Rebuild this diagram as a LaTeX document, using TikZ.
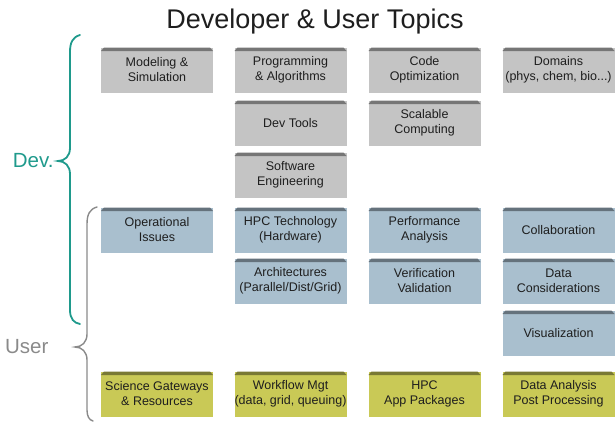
\documentclass[tikz,border=0pt]{standalone}
\usepackage{fontspec}
\setmainfont{Liberation Sans}

\definecolor{devgray}{HTML}{C4C4C4}
\definecolor{userblue}{HTML}{A9BFCE}
\definecolor{appyellow}{HTML}{C9C956}
\definecolor{topictext}{HTML}{1E1E1E}
\definecolor{devteal}{HTML}{1F9A8C}
\definecolor{usergray}{HTML}{8A8A8A}

\begin{document}
\begin{tikzpicture}[x=1pt, y=-1pt]
  \tikzset{
    topic/.style={rectangle, fill=#1, minimum width=112pt, minimum height=45pt,
      inner sep=0pt, align=center, text=topictext,
      font=\fontsize{12.5}{15}\selectfont,
      path picture={
        \fill[#1!60!black] ([yshift=-3.5pt]path picture bounding box.north west)
          -- ([xshift=3pt]path picture bounding box.north west)
          -- ([xshift=-3pt]path picture bounding box.north east)
          -- ([yshift=-3.5pt]path picture bounding box.north east) -- cycle;}},
    devbox/.style={topic=devgray},
    userbox/.style={topic=userblue},
    appbox/.style={topic=appyellow},
    side label/.style={anchor=east, font=\fontsize{20.5}{20.5}\selectfont}
  }
  \useasboundingbox (0,0) rectangle (615,421);

  \node[font=\fontsize{27}{27}\selectfont, text=topictext] (title) at (315,22) {Developer \& User Topics};

  % developer rows
  \node[devbox] (model)  at (157,70)   {Modeling \&\\Simulation};
  \node[devbox] (prog)   at (290.5,70) {Programming\\\& Algorithms};
  \node[devbox] (codeopt) at (424.5,70) {Code\\Optimization};
  \node[devbox] (domain) at (558.5,70) {Domains\\(phys, chem, bio...)};
  \node[devbox] (tools)  at (290.5,123) {Dev Tools};
  \node[devbox] (scale)  at (424.5,123) {Scalable\\Computing};
  \node[devbox] (softeng) at (290.5,175) {Software\\Engineering};

  % user rows
  \node[userbox] (opissue) at (157,230)   {Operational\\Issues};
  \node[userbox] (hpctech) at (290.5,230) {HPC Technology\\(Hardware)};
  \node[userbox] (perf)    at (424.5,230) {Performance\\Analysis};
  \node[userbox] (collab)  at (558.5,230) {Collaboration};
  \node[userbox] (arch)    at (290.5,281) {Architectures\\(Parallel/Dist/Grid)};
  \node[userbox] (verif)   at (424.5,281) {Verification\\Validation};
  \node[userbox] (datacon) at (558.5,281) {Data\\Considerations};
  \node[userbox] (vis)     at (558.5,333) {Visualization};

  % application row
  \node[appbox] (gateway)  at (157,394)   {Science Gateways\\\& Resources};
  \node[appbox] (workflow) at (290.5,394) {Workflow Mgt\\(data, grid, queuing)};
  \node[appbox] (apppkg)   at (424.5,394) {HPC\\App Packages};
  \node[appbox] (analysis) at (558.5,394) {Data Analysis\\Post Processing};

  % braces
  \draw[devteal, line width=1.8pt, line cap=round]
    (80,35) .. controls (73,37) and (70,42) .. (70,52) -- (70,148)
    .. controls (70,156) and (65,161) .. (58,161)
    .. controls (65,161) and (70,166) .. (70,174) -- (70,310)
    .. controls (70,319) and (74,323) .. (80,324);
  \draw[usergray, line width=1.4pt, line cap=round]
    (97,207) .. controls (90,209) and (87,214) .. (87,224) -- (87,334)
    .. controls (87,342) and (82,347) .. (75,347)
    .. controls (82,347) and (87,352) .. (87,360) -- (87,410)
    .. controls (87,416) and (89,420) .. (93,421);
  \node[side label, text=devteal] (devlabel) at (57,161) {Dev.};
  \node[side label, text=usergray] (userlabel) at (52,347) {User};
\end{tikzpicture}
\end{document}
